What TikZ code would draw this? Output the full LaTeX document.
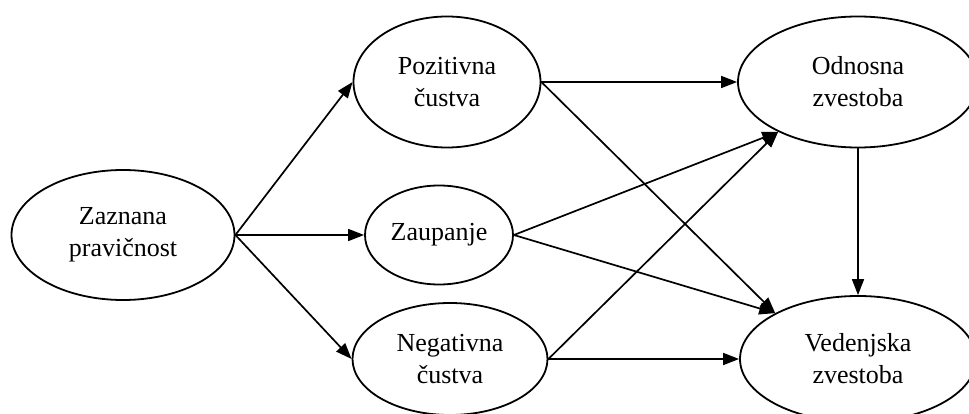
\documentclass[tikz,border=0pt]{standalone}
\usepackage{fontspec}
\setmainfont{Liberation Serif}
\usetikzlibrary{shapes.geometric,arrows.meta}
\begin{document}
\begin{tikzpicture}[x=1pt,y=-1pt,
  ell/.style={draw,ellipse,line width=1.8pt,inner sep=0pt,align=center,
    font=\fontsize{26}{32}\selectfont},
  arr/.style={line width=1.7pt,-{Triangle[length=16pt,width=12pt]}}]
\useasboundingbox (0,0) rectangle (969,414);
\clip (0,0) rectangle (969,414);
\node[ell,minimum width=223pt,minimum height=130pt] (zp) at (123,235) {Zaznana\\pravičnost};
\node[ell,minimum width=187pt,minimum height=131pt] (poz) at (447,82) {Pozitivna\\čustva};
\node[ell,minimum width=148pt,minimum height=99pt] (zau) at (439,235) {Zaupanje};
\node[ell,minimum width=195pt,minimum height=112pt] (neg) at (450,359) {Negativna\\čustva};
\node[ell,minimum width=240pt,minimum height=131pt] (odn) at (858,82) {Odnosna\\zvestoba};
\node[ell,minimum width=236pt,minimum height=126pt] (ved) at (858,359) {Vedenjska\\zvestoba};
\draw[arr] (zp.east) -- (poz.west);
\draw[arr] (zp.east) -- (zau.west);
\draw[arr] (zp.east) -- (neg.west);
\draw[arr] (poz.east) -- (odn.west);
\draw[arr] (poz.east) -- (ved.151);
\draw[arr] (zau.east) -- (odn.212);
\draw[arr] (zau.east) -- (ved.151);
\draw[arr] (neg.east) -- (odn.212);
\draw[arr] (neg.east) -- (ved.west);
\draw[arr] (odn.south) -- (ved.north);
\end{tikzpicture}
\end{document}
